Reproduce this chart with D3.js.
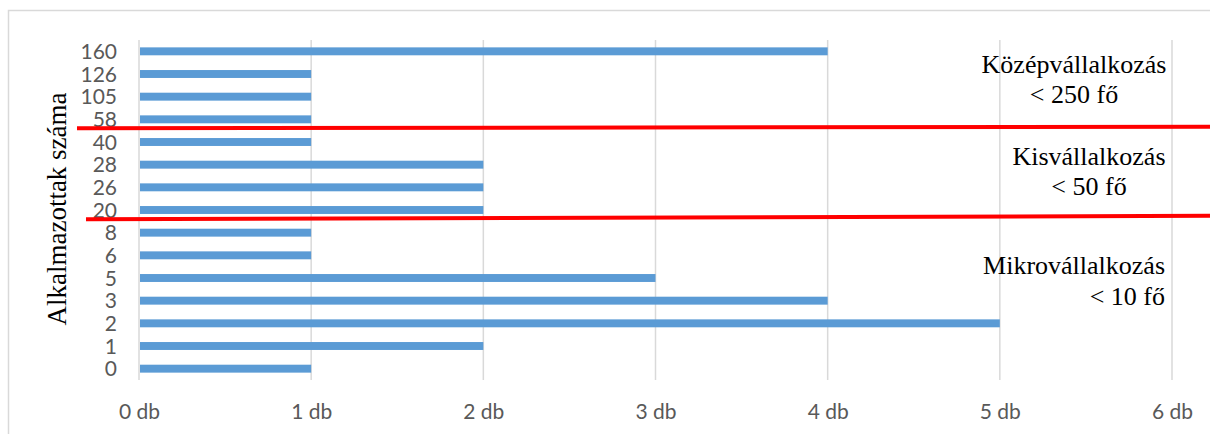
<!DOCTYPE html>
<html>
<head>
<meta charset="utf-8">
<script src="https://cdn.jsdelivr.net/npm/d3@7"></script>
<style>
  html, body { margin: 0; padding: 0; background: #fff; }
  svg { display: block; }
</style>
</head>
<body>
<svg id="chart" width="1210" height="434"></svg>
<script>
// ---- data ----
const categories = ["160","126","105","58","40","28","26","20","8","6","5","3","2","1","0"];
const values     = [4, 1, 1, 1, 1, 2, 2, 2, 1, 1, 3, 4, 5, 2, 1];
const xTicks     = [0, 1, 2, 3, 4, 5, 6];
const xTickSuffix = " db";
const yTitle = "Alkalmazottak száma";
const groupLabels = [
  ["Középvállalkozás", "< 250 fő"],
  ["Kisvállalkozás", "< 50 fő"],
  ["Mikrovállalkozás", "< 10 fő"]
];

// ---- layout ----
const W = 1210, H = 434;
const plot = { left: 139, right: 1172, top: 40, bottom: 380 };
const svg = d3.select("#chart");

const x = d3.scaleLinear().domain([0, 6]).range([plot.left, plot.right]);
const y = d3.scaleBand().domain(categories).range([plot.top, plot.bottom]).paddingInner(0.65).paddingOuter(0.325);

// frame
svg.append("path")
  .attr("d", `M8.5,${H} L8.5,10.5 L${W},10.5`)
  .attr("fill", "none").attr("stroke", "#d9d9d9").attr("stroke-width", 1.5);

// gridlines
svg.append("g").selectAll("line").data(xTicks).join("line")
  .attr("x1", d => x(d)).attr("x2", d => x(d))
  .attr("y1", plot.top).attr("y2", plot.bottom)
  .attr("stroke", "#d9d9d9").attr("stroke-width", 1.5);

// bars
svg.append("g").selectAll("rect").data(categories).join("rect")
  .attr("x", x(0) + 1)
  .attr("y", d => y(d))
  .attr("width", (d, i) => x(values[i]) - x(0) - 1)
  .attr("height", y.bandwidth())
  .attr("fill", "#5b9bd5");

// y axis labels
const yAxis = d3.axisLeft(y).tickSize(0).tickPadding(0);
const gy = svg.append("g").attr("transform", `translate(117,0)`).call(yAxis);
gy.select(".domain").remove();
gy.selectAll("text")
  .attr("font-family", "Lato, 'Open Sans', sans-serif")
  .attr("font-size", 21).attr("fill", "#595959").attr("dy", "0.36em");

// x axis labels
const xAxis = d3.axisBottom(x).tickValues(xTicks).tickFormat(d => d + xTickSuffix).tickSize(0).tickPadding(0);
const gx = svg.append("g").attr("transform", `translate(0,411)`).call(xAxis);
gx.select(".domain").remove();
gx.selectAll("text")
  .attr("font-family", "Lato, 'Open Sans', sans-serif")
  .attr("font-size", 21).attr("fill", "#595959").attr("dy", "0.36em");

// y title
svg.append("text")
  .attr("transform", "translate(66,209) rotate(-90)")
  .attr("text-anchor", "middle")
  .attr("font-family", "'Liberation Serif', 'Times New Roman', serif")
  .attr("font-size", 27).attr("fill", "#000")
  .text(yTitle);

// red separator lines (annotations)
const sepLines = [
  { x1: 77, y1: 128.3, x2: 1210, y2: 126.7 },
  { x1: 86, y1: 219.3, x2: 1210, y2: 215.8 }
];
svg.append("g").selectAll("line").data(sepLines).join("line")
  .attr("x1", d => d.x1).attr("y1", d => d.y1)
  .attr("x2", d => d.x2).attr("y2", d => d.y2)
  .attr("stroke", "#ff0000").attr("stroke-width", 4);

// group labels
const labelPos = [
  { x: 1074, y: [73, 103], anchor: "middle" },
  { x: 1089, y: [165, 194.5], anchor: "middle" },
  { x: 1165, y: [274, 304.5], anchor: "end" }
];
groupLabels.forEach((lines, i) => {
  const p = labelPos[i];
  lines.forEach((t, j) => {
    svg.append("text")
      .attr("x", p.x).attr("y", p.y[j])
      .attr("text-anchor", p.anchor)
      .attr("font-family", "'Liberation Serif', 'Times New Roman', serif")
      .attr("font-size", 26).attr("fill", "#000")
      .text(t);
  });
});
</script>
</body>
</html>
